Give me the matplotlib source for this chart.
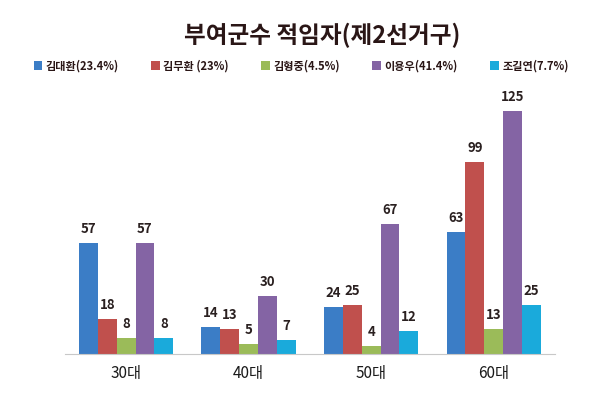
import numpy as np
import matplotlib
matplotlib.use("Agg")
import matplotlib.pyplot as plt

plt.rcParams['font.family'] = ['Noto Sans CJK KR', 'DejaVu Sans']

# data
ages = ["30대", "40대", "50대", "60대"]
names = ["김대환(23.4%)", "김무환 (23%)", "김형중(4.5%)", "이용우(41.4%)", "조길연(7.7%)"]
kim_dh = [57, 14, 24, 63]
kim_mh = [18, 13, 25, 99]
kim_hj = [8, 5, 4, 13]
lee_yw = [57, 30, 67, 125]
cho_gy = [8, 7, 12, 25]
series = [kim_dh, kim_mh, kim_hj, lee_yw, cho_gy]
colors = ["#3b7dc6", "#c0504d", "#9bbb59", "#8464a4", "#1aaadb"]

fig = plt.figure(figsize=(6, 3.95), dpi=100)
ax = fig.add_axes([0.108, 0.104, 0.817, 0.664])

x = np.arange(len(ages))
w = 0.154
for i, (vals, c, n) in enumerate(zip(series, colors, names)):
    bars = ax.bar(x + (i - 2) * w, vals, w, color=c, label=n)
    ax.bar_label(bars, padding=5, fontsize=9.5, fontweight='bold', color="#2a2020")

ax.set_xlim(-0.5, 3.5)
ax.set_ylim(0, 135)
ax.set_xticks(x)
ax.set_xticklabels(ages, fontsize=11, fontweight='medium', color="#1a1a1a")
ax.tick_params(axis='x', length=0, pad=8)
ax.set_yticks([])
for s in ["top", "right", "left"]:
    ax.spines[s].set_visible(False)
ax.spines["bottom"].set_color("#c8c8c8")

fig.text(0.537, 0.91, "부여군수 적임자(제2선거구)", ha='center', va='center',
         fontsize=17, fontweight='black', color="#2a1616")

leg = fig.legend(loc='center', bbox_to_anchor=(0.502, 0.833), ncol=5, frameon=False,
                 handlelength=0.8, handleheight=0.8, handletextpad=0.3,
                 columnspacing=2.9, prop={'weight': 'bold', 'size': 8})
for t in leg.get_texts():
    t.set_color("#2a1616")

fig.savefig("out.png", dpi=100, facecolor="white")
